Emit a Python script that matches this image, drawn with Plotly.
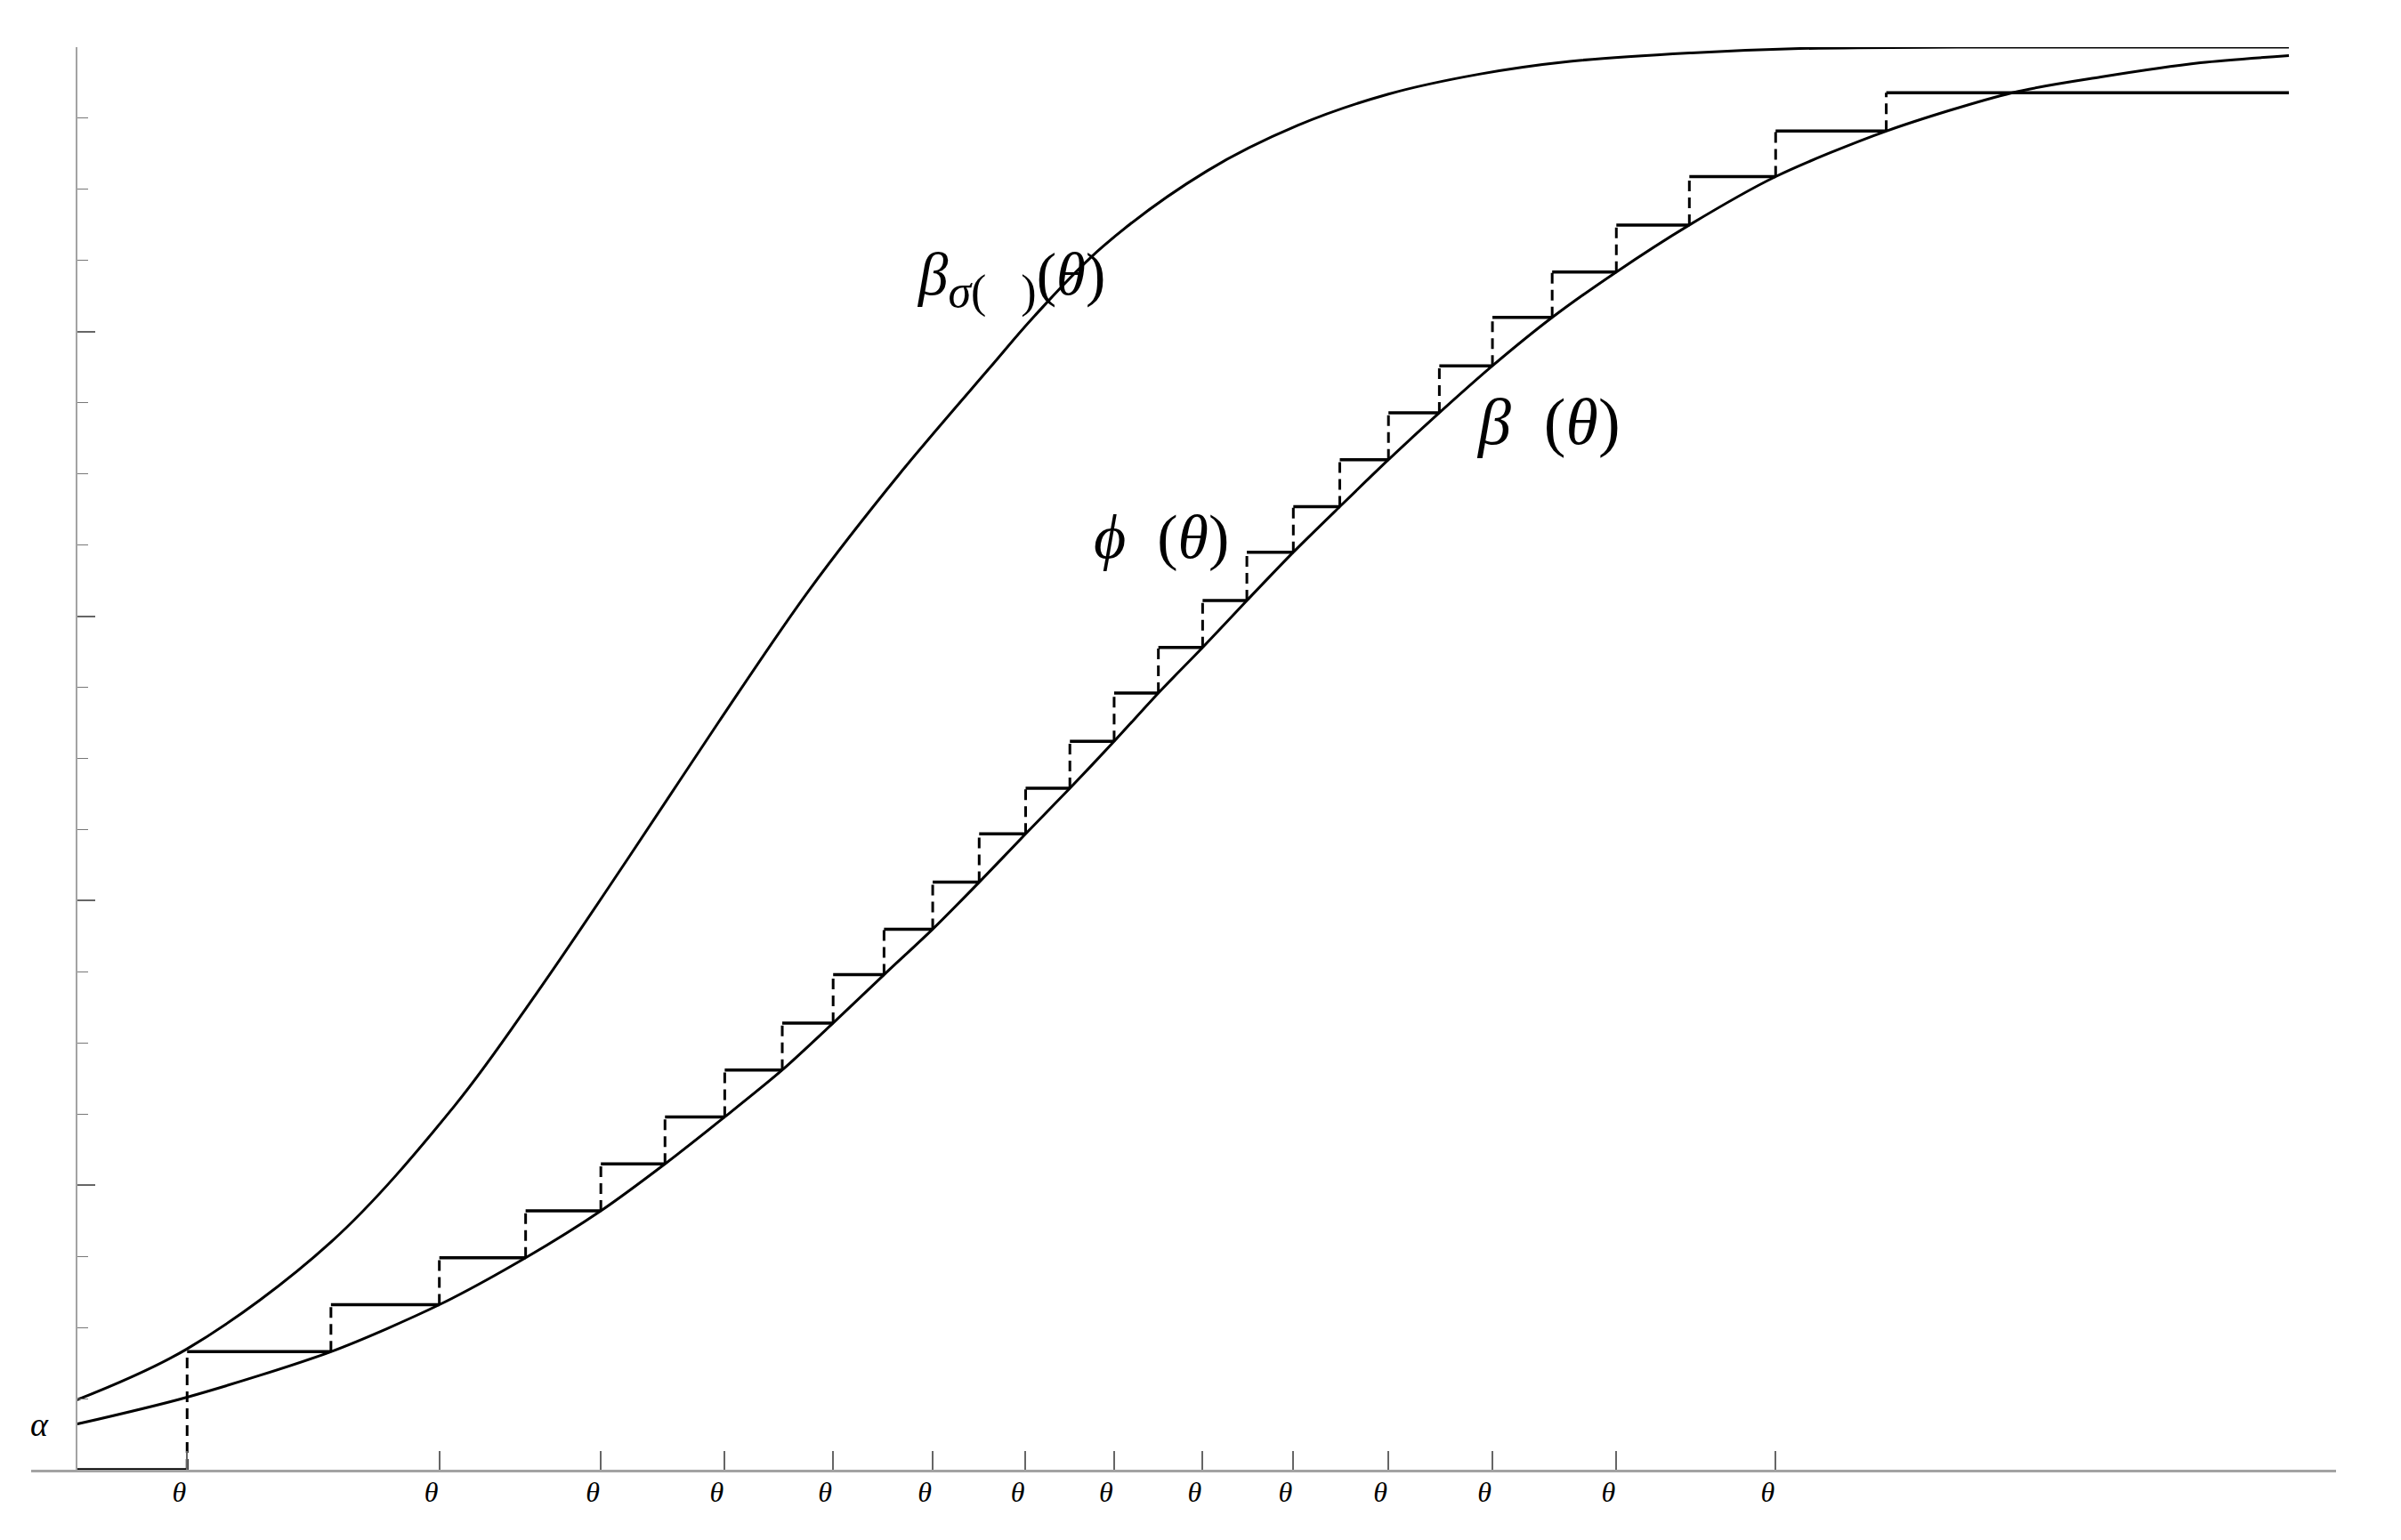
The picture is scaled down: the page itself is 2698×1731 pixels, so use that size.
import plotly.graph_objects as go

# ---------------- data ----------------
# step function phi(theta): jump locations and the level held after each jump
step_theta = [0.050, 0.115, 0.164, 0.203, 0.237, 0.266, 0.293, 0.319, 0.342, 0.365,
              0.387, 0.408, 0.429, 0.449, 0.469, 0.489, 0.509, 0.529, 0.550, 0.571,
              0.593, 0.616, 0.640, 0.667, 0.696, 0.729, 0.768, 0.818]
step_level = [0.083, 0.116, 0.149, 0.182, 0.215, 0.248, 0.281, 0.314, 0.348, 0.380,
              0.413, 0.447, 0.479, 0.512, 0.546, 0.578, 0.611, 0.645, 0.677, 0.710,
              0.743, 0.776, 0.810, 0.842, 0.875, 0.909, 0.941, 0.968]
theta_start = 0.0
theta_end = 1.0

# lower curve beta(theta)
lower_theta = [0.000, 0.050, 0.115, 0.164, 0.203, 0.237, 0.266, 0.293, 0.319, 0.342,
               0.365, 0.387, 0.408, 0.429, 0.449, 0.469, 0.489, 0.509, 0.529, 0.550,
               0.571, 0.593, 0.616, 0.640, 0.667, 0.696, 0.729, 0.768, 0.818, 0.875,
               0.915, 0.960, 1.000]
lower_value = [0.032, 0.051, 0.083, 0.116, 0.149, 0.182, 0.215, 0.248, 0.281, 0.314,
               0.348, 0.380, 0.413, 0.447, 0.479, 0.512, 0.546, 0.578, 0.611, 0.645,
               0.677, 0.710, 0.743, 0.776, 0.810, 0.842, 0.875, 0.909, 0.941, 0.968,
               0.979, 0.989, 0.994]

# upper curve beta_sigma(theta)
upper_theta = [0.000, 0.050, 0.115, 0.171, 0.208, 0.249, 0.290, 0.331, 0.372, 0.413,
               0.433, 0.464, 0.511, 0.552, 0.593, 0.634, 0.675, 0.730, 0.779, 0.850,
               1.000]
upper_value = [0.049, 0.085, 0.160, 0.256, 0.335, 0.429, 0.525, 0.618, 0.700, 0.775,
               0.811, 0.860, 0.913, 0.945, 0.967, 0.981, 0.990, 0.996, 0.999, 1.000,
               1.000]

# x tick positions (every other jump) and labels
tick_theta = step_theta[::2]
tick_labels = ["θ", "θ", "θ", "θ", "θ", "θ", "θ", "θ", "θ", "θ", "θ", "θ", "θ", "θ"]

alpha_value = lower_value[0]

# ---------------- build step segments ----------------
h_x, h_y, v_x, v_y = [theta_start, step_theta[0], None], [0, 0, None], [], []
prev = 0.0
for k, (t, lv) in enumerate(zip(step_theta, step_level)):
    nxt = step_theta[k + 1] if k + 1 < len(step_theta) else theta_end
    h_x += [t, nxt, None]
    h_y += [lv, lv, None]
    v_x += [t, t, None]
    v_y += [prev, lv, None]
    prev = lv

BLACK = "#000000"
SERIF = "Liberation Serif, Times New Roman, serif"

fig = go.Figure()
fig.add_trace(go.Scatter(x=upper_theta, y=upper_value, mode="lines",
                         line=dict(color=BLACK, width=3, shape="spline", smoothing=1.0),
                         hoverinfo="skip"))
fig.add_trace(go.Scatter(x=lower_theta, y=lower_value, mode="lines",
                         line=dict(color=BLACK, width=3, shape="spline", smoothing=0.8),
                         hoverinfo="skip"))
fig.add_trace(go.Scatter(x=v_x, y=v_y, mode="lines",
                         line=dict(color=BLACK, width=3, dash="12px,7px"),
                         hoverinfo="skip"))
fig.add_trace(go.Scatter(x=h_x, y=h_y, mode="lines",
                         line=dict(color=BLACK, width=3.5),
                         hoverinfo="skip"))

# plot-area geometry (page has an 8px body margin)
W, H = 2682, 1715
m_l, m_r, m_t, m_b = 27, 65, 45, 71
x_left, x_right = -0.0205, 1.0213
yaxis_pos = (0 - x_left) / (x_right - x_left)

fig.update_layout(
    width=W, height=H,
    margin=dict(l=m_l, r=m_r, t=m_t, b=m_b, pad=0),
    paper_bgcolor="white", plot_bgcolor="white",
    showlegend=False,
    xaxis=dict(range=[x_left, x_right], showgrid=False, zeroline=False,
               showline=True, linecolor="#a3a3a3", linewidth=3,
               tickmode="array", tickvals=tick_theta,
               ticktext=["<i>%s</i>" % t for t in tick_labels],
               ticks="inside", ticklen=21, tickwidth=1.5, tickcolor="#666666",
               ticklabelshift=-9, ticklabelstandoff=-5,
               tickfont=dict(family=SERIF, size=32, color=BLACK)),
    yaxis=dict(range=[0, 1.0], showgrid=False, zeroline=False,
               anchor="free", position=yaxis_pos,
               showline=True, linecolor="#a3a3a3", linewidth=2,
               tickmode="linear", tick0=0, dtick=0.2,
               ticks="inside", ticklen=20, tickwidth=1.5, tickcolor="#666666",
               showticklabels=False,
               minor=dict(dtick=0.05, ticks="inside", ticklen=12,
                          tickwidth=1.2, tickcolor="#777777", showgrid=False)),
)

annos = [
    dict(x=0.379, y=0.837,
         text="<i>β</i><sub><span style='font-size:52px'><i>σ</i>(&nbsp;&nbsp;&nbsp;)</span></sub>(<i>θ</i>)",
         size=67),
    dict(x=0.632, y=0.737, text="<i>β</i>&nbsp;&nbsp;(<i>θ</i>)", size=74),
    dict(x=0.459, y=0.656, text="<i>ϕ</i>&nbsp;&nbsp;(<i>θ</i>)", size=70),
]
for a in annos:
    fig.add_annotation(x=a["x"], y=a["y"], xref="x", yref="y", text=a["text"],
                       showarrow=False, xanchor="left", yanchor="middle",
                       font=dict(family=SERIF, size=a["size"], color=BLACK))

fig.add_annotation(x=-0.0165, y=alpha_value, xref="x", yref="y", text="<i>α</i>",
                   showarrow=False, xanchor="center", yanchor="middle",
                   font=dict(family=SERIF, size=38, color=BLACK))

fig.write_html("out.html")
